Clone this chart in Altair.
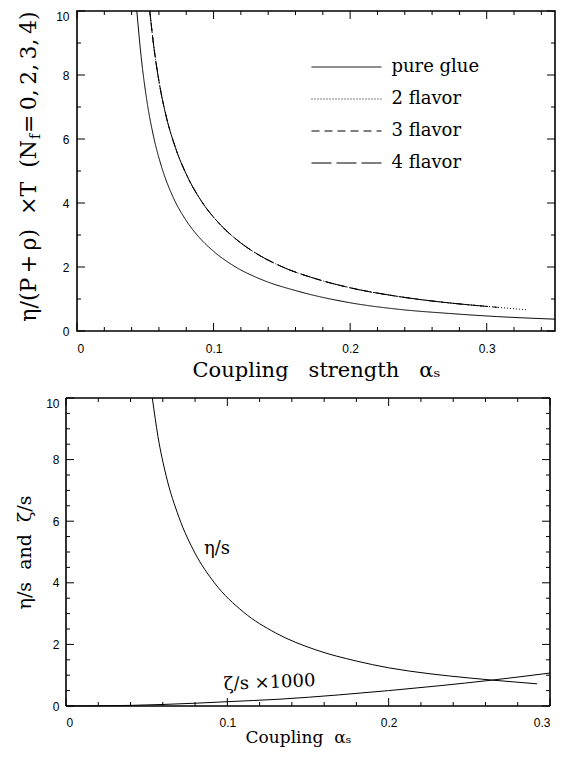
import altair as alt
import pandas as pd

# ---------------- top panel: eta/(P+rho) x T versus alpha_s ----------------
series_names = ["pure glue", "2 flavor", "3 flavor", "4 flavor"]
dash_patterns = [[1, 0], [1, 2], [8, 5], [20, 5]]

glue_alpha = [0.0438, 0.047, 0.051, 0.056, 0.062, 0.0705, 0.080, 0.090, 0.100, 0.115, 0.135, 0.162, 0.199, 0.235, 0.272, 0.308, 0.350]
glue_value = [10.0, 8.56, 7.24, 6.09, 5.12, 4.17, 3.45, 2.90, 2.49, 2.03, 1.61, 1.24, 0.89, 0.68, 0.55, 0.45, 0.37]

flavor2_alpha = [0.0533, 0.056, 0.060, 0.065, 0.072, 0.081, 0.0906, 0.105, 0.120, 0.1306, 0.150, 0.175, 0.199, 0.235, 0.272, 0.297, 0.308, 0.330]
flavor2_value = [10.0, 8.97, 7.81, 6.76, 5.74, 4.81, 4.09, 3.32, 2.75, 2.44, 2.01, 1.63, 1.36, 1.08, 0.88, 0.78, 0.74, 0.66]

flavor3_alpha = [0.0533, 0.056, 0.060, 0.065, 0.072, 0.081, 0.0906, 0.105, 0.120, 0.1306, 0.150, 0.175, 0.199, 0.235, 0.272, 0.297, 0.308]
flavor3_value = [10.0, 8.97, 7.81, 6.76, 5.74, 4.81, 4.09, 3.32, 2.75, 2.44, 2.01, 1.63, 1.36, 1.08, 0.88, 0.78, 0.74]

flavor4_alpha = [0.0533, 0.056, 0.060, 0.065, 0.072, 0.081, 0.0906, 0.105, 0.120, 0.1306, 0.150, 0.175, 0.199, 0.235, 0.272, 0.297]
flavor4_value = [10.0, 8.97, 7.81, 6.76, 5.74, 4.81, 4.09, 3.32, 2.75, 2.44, 2.01, 1.63, 1.36, 1.08, 0.88, 0.78]

top_x_major = [0.0, 0.1, 0.2, 0.3]
top_x_minor = [0.02, 0.04, 0.06, 0.08, 0.12, 0.14, 0.16, 0.18, 0.22, 0.24, 0.26, 0.28, 0.32, 0.34]
top_y_major = [0, 2, 4, 6, 8, 10]
top_y_minor = [1, 3, 5, 7, 9]

# ---------------- bottom panel: eta/s and zeta/s ----------------
eta_alpha = [0.0535, 0.057, 0.062, 0.070, 0.080, 0.092, 0.110, 0.130, 0.155, 0.180, 0.200, 0.225, 0.250, 0.2643, 0.292]
eta_value = [10.0, 8.75, 7.49, 6.13, 4.96, 4.00, 3.05, 2.37, 1.82, 1.46, 1.24, 1.05, 0.91, 0.84, 0.72]

zeta_alpha = [0.0, 0.04, 0.06, 0.08, 0.10, 0.132, 0.169, 0.200, 0.230, 0.264, 0.300]
zeta_value = [0.0, 0.02, 0.05, 0.09, 0.14, 0.22, 0.36, 0.50, 0.65, 0.84, 1.07]

bot_x_major = [0.0, 0.1, 0.2, 0.3]
bot_x_minor = [0.02, 0.04, 0.06, 0.08, 0.12, 0.14, 0.16, 0.18, 0.22, 0.24, 0.26, 0.28]
bot_y_major = [0, 2, 4, 6, 8, 10]
bot_y_minor = [0.5, 1, 1.5, 2.5, 3, 3.5, 4.5, 5, 5.5, 6.5, 7, 7.5, 8.5, 9, 9.5]

curve_labels = ["η/s", "ζ/s ×1000"]
curve_label_alpha = [0.0855, 0.098]
curve_label_value = [4.95, 0.52]
curve_label_angle = [0, 357.5]

SERIF = "DejaVu Serif"
SANS = "Liberation Sans"
NB = "\u00a0"
TS = "\u2009"

TW, TH = 478, 320
BX0 = -11            # bottom plot frame starts 11 px left of the shared column origin
BW, BH = 473, 308


def tick_layers(xs, ys, xmaj, xmin, ymaj, ymin, x0, W, H):
    layers = []
    for vals, L in [(xmaj, 8), (xmin, 4)]:
        d = pd.DataFrame({"t": vals})
        b = alt.Chart(d).mark_rule(color="black", strokeWidth=1)
        layers.append(b.encode(x=alt.X("t:Q", scale=xs), y=alt.value(H), y2=alt.value(H - L)))
        layers.append(b.encode(x=alt.X("t:Q", scale=xs), y=alt.value(0), y2=alt.value(L)))
    for vals, L in [(ymaj, 8), (ymin, 4)]:
        d = pd.DataFrame({"t": vals})
        b = alt.Chart(d).mark_rule(color="black", strokeWidth=1)
        layers.append(b.encode(y=alt.Y("t:Q", scale=ys), x=alt.value(x0), x2=alt.value(x0 + L)))
        layers.append(b.encode(y=alt.Y("t:Q", scale=ys), x=alt.value(W), x2=alt.value(W - L)))
    return layers


label_baseline = {"condition": {"test": "datum.value == 10", "value": "top"}, "value": "middle"}

# ---- top chart
rows = []
for name, al, vl in [
    ("pure glue", glue_alpha, glue_value),
    ("2 flavor", flavor2_alpha, flavor2_value),
    ("3 flavor", flavor3_alpha, flavor3_value),
    ("4 flavor", flavor4_alpha, flavor4_value),
]:
    for a, v in zip(al, vl):
        rows.append({"series": name, "alpha": a, "value": v})
top_df = pd.DataFrame(rows)

xs_top = alt.Scale(domain=[0, 0.35], nice=False, zero=False)
ys_top = alt.Scale(domain=[0, 10], nice=False)

top_lines = alt.Chart(top_df).mark_line(color="black", strokeWidth=1, interpolate="monotone").encode(
    x=alt.X("alpha:Q", scale=xs_top,
            axis=alt.Axis(values=top_x_major, format="~g", title=f"Coupling {NB}{NB}strength {NB}{NB}αₛ",
                          titleFontSize=21, titlePadding=5, labelPadding=12)),
    y=alt.Y("value:Q", scale=ys_top,
            axis=alt.Axis(values=top_y_major, title=None, labelPadding=8, labelBaseline=label_baseline)),
    strokeDash=alt.StrokeDash("series:N", sort=series_names,
                              scale=alt.Scale(domain=series_names, range=dash_patterns),
                              legend=alt.Legend(title=None, orient="none", legendX=233, legendY=47,
                                                symbolType="M-5,0H5", symbolSize=196, symbolOffset=27.5,
                                                symbolStrokeWidth=1, symbolStrokeColor="black",
                                                labelFont=SERIF, labelFontSize=18, labelColor="black",
                                                labelOffset=36, rowPadding=14, padding=0)),
    detail="series:N",
)

# y title with subscript f, pieces joined at an anchor point
title_a = f"η/(P{TS}+{TS}ρ) {NB}×T {NB}(N"
title_b = "f"
title_c = f"{TS}={TS}0,{TS}2,{TS}3,{TS}4)"
FS = 22
q = 129
tx = -41


def txt(s, x, y, size, align):
    return alt.Chart(pd.DataFrame({"s": [s]})).mark_text(
        font=SERIF, fontSize=size, angle=270, align=align, baseline="alphabetic", color="black"
    ).encode(text="s:N", x=alt.value(x), y=alt.value(y))


top_title = [
    txt(title_a, tx, q, FS, "right"),
    txt(title_b, tx + 4, q - 1, 14, "left"),
    txt(title_c, tx, q - 7, FS, "left"),
]

top = alt.layer(top_lines, *tick_layers(xs_top, ys_top, top_x_major, top_x_minor, top_y_major, top_y_minor, 0, TW, TH),
                *top_title).properties(width=TW, height=TH)

# ---- bottom chart
xs_bot = alt.Scale(domain=[0, 0.3], nice=False, zero=False, range=[BX0, BW])
ys_bot = alt.Scale(domain=[0, 10], nice=False)

bot_rows = [{"curve": "eta", "alpha": a, "value": v} for a, v in zip(eta_alpha, eta_value)]
bot_rows += [{"curve": "zeta", "alpha": a, "value": v} for a, v in zip(zeta_alpha, zeta_value)]
bot_df = pd.DataFrame(bot_rows)

bot_lines = alt.Chart(bot_df).mark_line(color="black", strokeWidth=1, interpolate="monotone").encode(
    x=alt.X("alpha:Q", scale=xs_bot,
            axis=alt.Axis(values=bot_x_major, format="~g", title=f"Coupling {NB}αₛ",
                          titleFontSize=17, titlePadding=1, labelPadding=11, titleX=221, titleAlign="center")),
    y=alt.Y("value:Q", scale=ys_bot,
            axis=alt.Axis(values=bot_y_major, title=f"η/s {NB}and {NB}ζ/s", titleFontSize=19, titlePadding=11,
                          labelPadding=7, offset=-BX0, labelBaseline=label_baseline)),
    detail="curve:N",
)

lab_df = pd.DataFrame({"label": curve_labels, "alpha": curve_label_alpha, "value": curve_label_value,
                       "ang": curve_label_angle})
bot_labels = alt.Chart(lab_df).mark_text(font=SERIF, fontSize=18, align="left", baseline="alphabetic",
                                         color="black").encode(
    x=alt.X("alpha:Q", scale=xs_bot),
    y=alt.Y("value:Q", scale=ys_bot),
    text="label:N",
    angle=alt.Angle("ang:Q", scale=None),
)

frame_df = pd.DataFrame({"k": [0]})
fb = alt.Chart(frame_df).mark_rule(color="black", strokeWidth=1.6)
bot_frame = [
    fb.encode(x=alt.value(BX0), x2=alt.value(BW), y=alt.value(0)),
    fb.encode(x=alt.value(BX0), x2=alt.value(BW), y=alt.value(BH)),
    fb.encode(x=alt.value(BX0), y=alt.value(0), y2=alt.value(BH)),
    fb.encode(x=alt.value(BW), y=alt.value(0), y2=alt.value(BH)),
]

bottom = alt.layer(bot_lines, bot_labels,
                   *tick_layers(xs_bot, ys_bot, bot_x_major, bot_x_minor, bot_y_major, bot_y_minor, BX0, BW, BH),
                   *bot_frame
                   ).properties(width=BW, height=BH, view=alt.ViewBackground(strokeWidth=0, stroke="transparent"))

chart = alt.vconcat(top, bottom, spacing=15).properties(
    padding={"top": 0, "left": 7, "right": 0, "bottom": 8}
).configure_view(stroke="black", strokeWidth=1.6).configure_axis(
    labelFont=SANS, labelFontSize=12, labelColor="black", titleFont=SERIF, titleColor="black",
    titleFontWeight="normal", ticks=False, tickSize=0, domain=False, grid=False
)

chart.save("out.html", embed_options={"renderer": "svg", "actions": False})
